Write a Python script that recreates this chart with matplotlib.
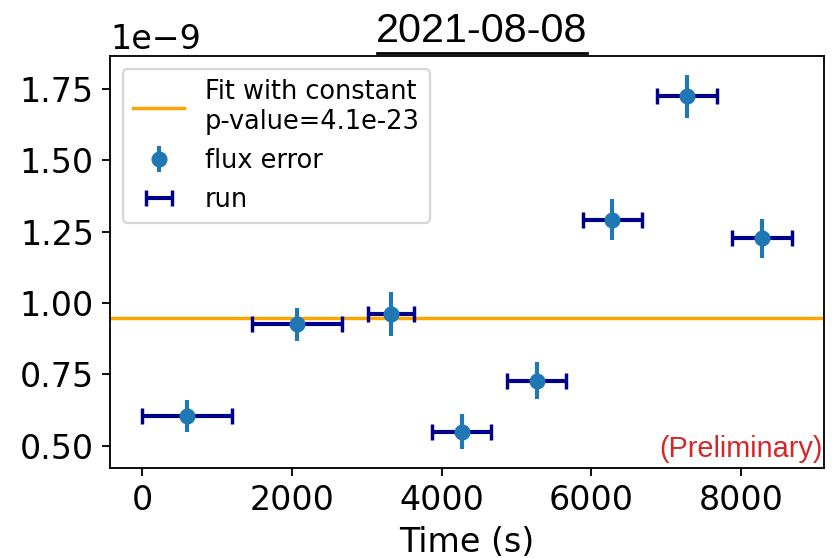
import matplotlib
matplotlib.use("Agg")
import matplotlib.pyplot as plt
from matplotlib.lines import Line2D
from matplotlib.transforms import IdentityTransform

# run time bins (s)
time_center = [600, 2063, 3318, 4270, 5270, 6280, 7280, 8280]
time_halfwidth = [600, 600, 307, 395, 395, 397, 398, 397]

# flux values (x1e-9) and errors
flux = [0.605e-9, 0.926e-9, 0.963e-9, 0.549e-9, 0.728e-9, 1.292e-9, 1.725e-9, 1.227e-9]
flux_err = [0.056e-9, 0.057e-9, 0.077e-9, 0.061e-9, 0.064e-9, 0.072e-9, 0.075e-9, 0.069e-9]

fit_const = 0.948e-9
p_value = "4.1e-23"
date = "2021-08-08"

DPI = 165
fig = plt.figure(figsize=(836 / DPI, 558 / DPI), dpi=DPI)
ax = fig.add_axes([110 / 836, 1 - 468 / 558, 714 / 836, 412 / 558])

ax.axhline(fit_const, color="orange", lw=1.5,
           label=f"Fit with constant\np-value={p_value}")
ax.errorbar(time_center, flux, yerr=flux_err, fmt="o", color="tab:blue",
            elinewidth=1.8, label="flux error", zorder=3)
ax.errorbar(time_center, flux, xerr=time_halfwidth, fmt="none", ecolor="darkblue",
            elinewidth=1.8, capsize=3.7, capthick=1.5, label="run", zorder=2)

ax.set_xlabel("Time (s)", fontsize=14.5)
ax.tick_params(labelsize=14.5)
ax.yaxis.get_offset_text().set_fontsize(14.5)
ax.legend(fontsize=11.2, loc="upper left")

ax.text(0.998, 0.012, "(Preliminary)", transform=ax.transAxes, ha="right", va="bottom",
        color="tab:red", fontsize=12.6, family="Liberation Sans")

title = ax.set_title(date, fontsize=18, family="Liberation Sans", x=0.521)

# underline the title
fig.canvas.draw()
renderer = fig.canvas.get_renderer()
bb = title.get_window_extent(renderer)
_, _, descent = renderer.get_text_width_height_descent(date, title.get_fontproperties(), ismath=False)
y_line = bb.y0 + descent - 3
fig.add_artist(Line2D([bb.x0 + 1, bb.x1 - 1], [y_line, y_line], transform=IdentityTransform(),
                      color="black", lw=1.2))

fig.savefig("out.png", dpi=DPI)
